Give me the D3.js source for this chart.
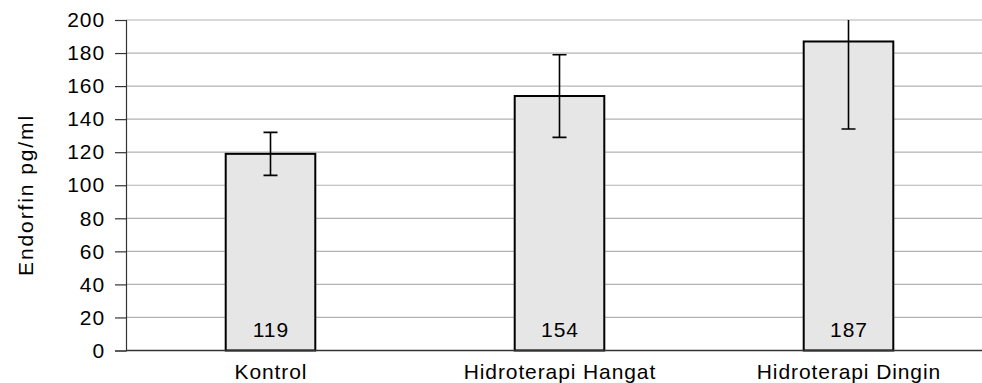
<!DOCTYPE html>
<html><head><meta charset="utf-8">
<script src="https://cdn.jsdelivr.net/npm/d3@7"></script>
<style>body{margin:0;background:#fff}svg{display:block}text{font-family:"Liberation Sans",Arial,sans-serif;fill:#000}</style>
</head><body>
<script>
const categories = ["Kontrol", "Hidroterapi Hangat", "Hidroterapi Dingin"];
const values = [119, 154, 187];
const errors = [13, 25, 53];
const yTicks = [0, 20, 40, 60, 80, 100, 120, 140, 160, 180, 200];
const yTitle = "Endorfin pg/ml";

const W = 982, H = 383;
const margin = {left: 126, top: 20, right: -11, bottom: 32.5};
const FS = 21, LS = 0.9;
const svg = d3.select("body").append("svg").attr("width", W).attr("height", H);

const x = d3.scaleBand().domain(categories).range([margin.left, W - margin.right]).paddingInner(0.69).paddingOuter(0.345);
const y = d3.scaleLinear().domain([0, 200]).range([H - margin.bottom, margin.top]);

svg.append("defs").append("clipPath").attr("id", "clip")
  .append("rect").attr("x", margin.left).attr("y", margin.top).attr("width", W).attr("height", y(0) - margin.top);

// gridlines
svg.append("g").selectAll("line").data(yTicks.filter(d => d > 0)).join("line")
  .attr("x1", margin.left).attr("x2", W).attr("y1", d => y(d)).attr("y2", d => y(d))
  .attr("stroke", "#b3b3b3").attr("stroke-width", 1.2);

// y axis
const yAxis = svg.append("g").attr("transform", `translate(${margin.left},0)`)
  .call(d3.axisLeft(y).tickValues(yTicks).tickSize(11).tickPadding(10));
yAxis.select(".domain").attr("stroke", "#333").attr("stroke-width", 1.2);
yAxis.selectAll(".tick line").attr("stroke", "#333").attr("stroke-width", 1.2);
yAxis.selectAll("text").attr("font-size", FS).attr("letter-spacing", LS)
  .attr("font-family", '"Liberation Sans",Arial,sans-serif').attr("fill", "#000");

// bars
const cx = d => x(d) + x.bandwidth() / 2;
svg.append("g").selectAll("rect").data(categories).join("rect")
  .attr("x", d => x(d)).attr("width", x.bandwidth())
  .attr("y", (d, i) => y(values[i])).attr("height", (d, i) => y(0) - y(values[i]))
  .attr("fill", "#e6e6e6").attr("stroke", "#000").attr("stroke-width", 2);

// baseline
svg.append("line").attr("x1", margin.left).attr("x2", W).attr("y1", y(0)).attr("y2", y(0))
  .attr("stroke", "#333").attr("stroke-width", 1.5);

// error bars
const eb = svg.append("g").attr("clip-path", "url(#clip)").attr("stroke", "#000").attr("stroke-width", 1.6);
categories.forEach((c, i) => {
  const lo = values[i] - errors[i], hi = values[i] + errors[i];
  eb.append("line").attr("x1", cx(c)).attr("x2", cx(c)).attr("y1", y(lo)).attr("y2", y(hi));
  [lo, hi].forEach(v => eb.append("line").attr("x1", cx(c) - 7).attr("x2", cx(c) + 7).attr("y1", y(v)).attr("y2", y(v)));
});

// value labels
svg.append("g").selectAll("text").data(categories).join("text")
  .attr("x", d => cx(d) + LS / 2).attr("y", y(0) - 13.5).attr("text-anchor", "middle")
  .attr("font-size", FS).attr("letter-spacing", LS)
  .text((d, i) => values[i]);

// category labels
svg.append("g").selectAll("text").data(categories).join("text")
  .attr("x", d => cx(d) + LS / 2).attr("y", 379).attr("text-anchor", "middle")
  .attr("font-size", FS).attr("letter-spacing", LS)
  .text(d => d);

// y title
svg.append("text").attr("transform", `translate(33,195) rotate(-90)`)
  .attr("text-anchor", "middle").attr("font-size", FS).attr("letter-spacing", 1.9).text(yTitle);
</script>
</body></html>
